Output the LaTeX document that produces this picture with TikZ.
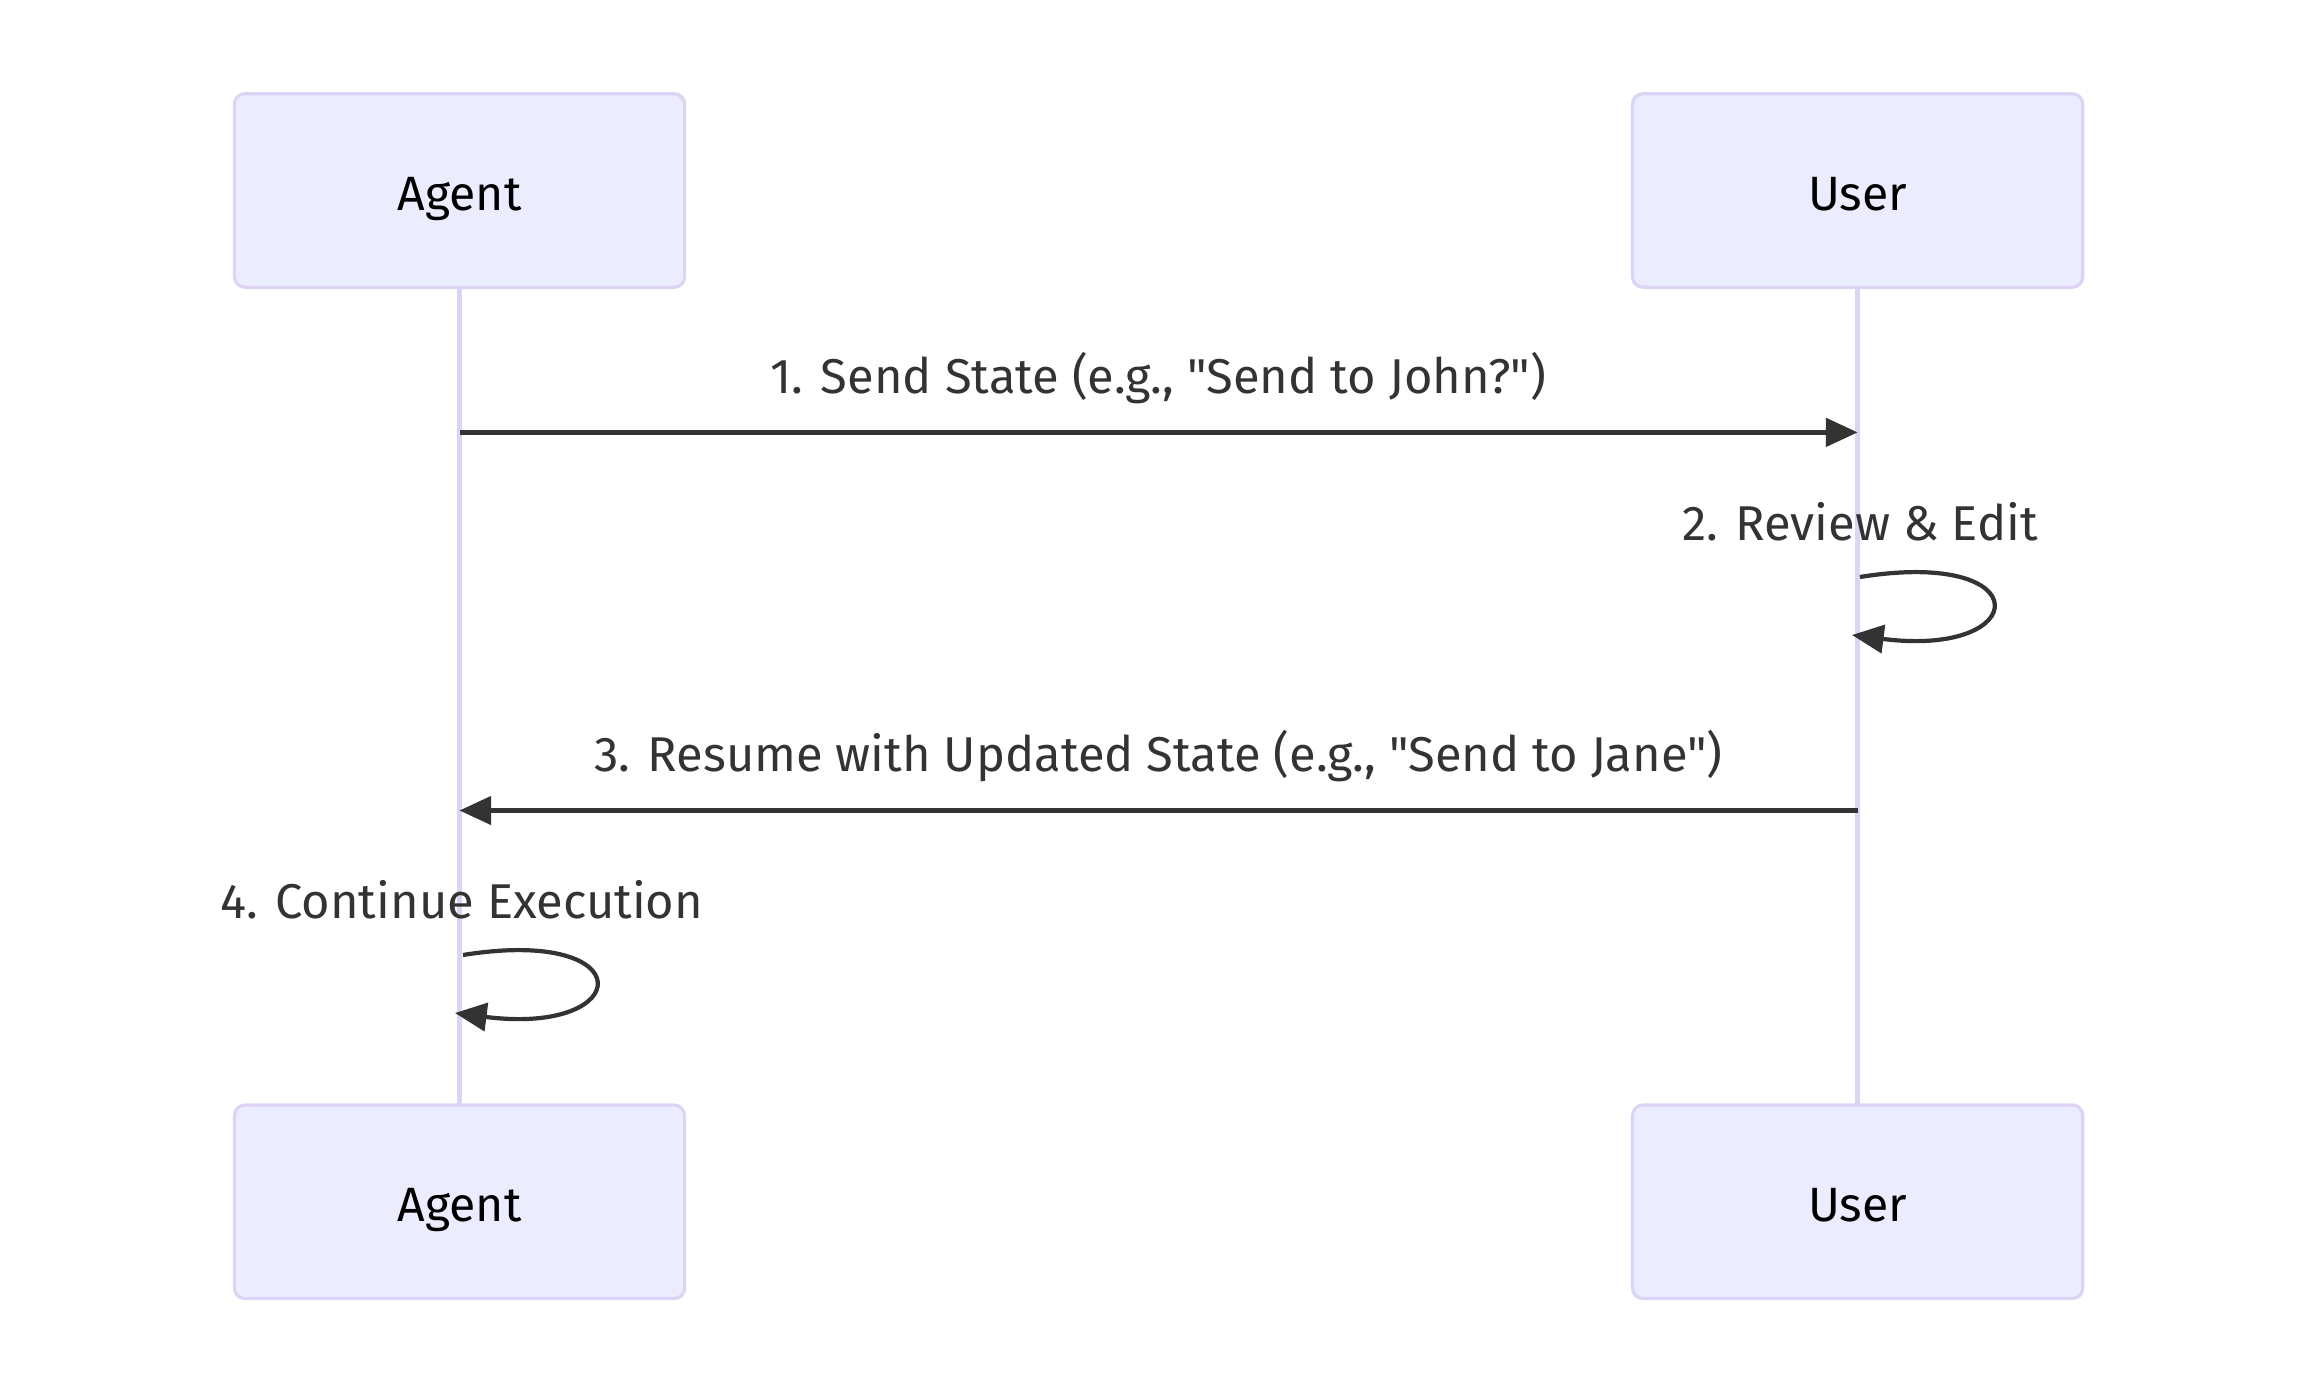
\documentclass[tikz,border=0pt]{standalone}
\usepackage{fontspec}
\newfontfamily\seqfont{Fira Sans}
\usetikzlibrary{positioning,arrows.meta}
\definecolor{actorfill}{HTML}{ECECFF}
\definecolor{actorline}{HTML}{DCD4F4}
\definecolor{msgline}{HTML}{333333}
\tikzset{
x=0.01cm, y=-0.01cm, % pixel like units, y going down
actor/.style={draw=actorline, line width=0.9pt, fill=actorfill, rounded corners=3pt,
  minimum width=4.5cm, minimum height=1.935cm, font=\seqfont\fontsize{13.7}{15}\selectfont,
  text=black, text height=2.8ex, text depth=0.2ex}, % the boxes on top and bottom
lifeline/.style={draw=actorline, line width=1.6pt}, % vertical lines
msg/.style={draw=msgline, line width=1.2pt, -{Triangle[length=9pt,width=8pt]}}, % messages
msgtext/.style={text=msgline, font=\seqfont\fontsize{13.9}{15}\selectfont, inner sep=0pt},
}
\begin{document}
\begin{tikzpicture}
\useasboundingbox (0,0) rectangle (2298,1395);

% lifelines first, boxes go over them
\coordinate (agentX) at (459.5,0);
\coordinate (userX) at (1857.6,0);
\draw[lifeline] (agentX |- 0,287) -- (agentX |- 0,1105);
\draw[lifeline] (userX |- 0,287) -- (userX |- 0,1105);

\node[actor] (agentTop) at (459.5,190.5) {Agent};
\node[actor] (userTop) at (1857.6,190.5) {User};
\node[actor] (agentBot) at (459.5,1201.8) {Agent};
\node[actor] (userBot) at (1857.6,1201.8) {User};

% message points on the lifelines
\coordinate (a1) at (agentTop.south |- 0,432.4);
\coordinate (u1) at (userTop.south |- 0,432.4);
\coordinate (u2s) at (1860,577);
\coordinate (u2e) at (1852,635);
\coordinate (u3) at (userTop.south |- 0,810.5);
\coordinate (a3) at (agentTop.south |- 0,810.5);
\coordinate (a4s) at (463,955);
\coordinate (a4e) at (455,1013);

\draw[msg] (a1) -- (u1);
\node[msgtext] (m1) at (1158.5,378) {1. Send State (e.g., "Send to John?")};

\draw[msg] (u2s) .. controls +(180,-29) and +(180,23) .. (u2e);
\node[msgtext] (m2) at (1860,521.8) {2. Review \& Edit};

\draw[msg] (u3) -- (a3);
\node[msgtext] (m3) at (1158.5,756) {3. Resume with Updated State (e.g., "Send to Jane")};

\draw[msg] (a4s) .. controls +(180,-29) and +(180,23) .. (a4e);
\node[msgtext] (m4) at (461.7,900) {4. Continue Execution};
\end{tikzpicture}
\end{document}
